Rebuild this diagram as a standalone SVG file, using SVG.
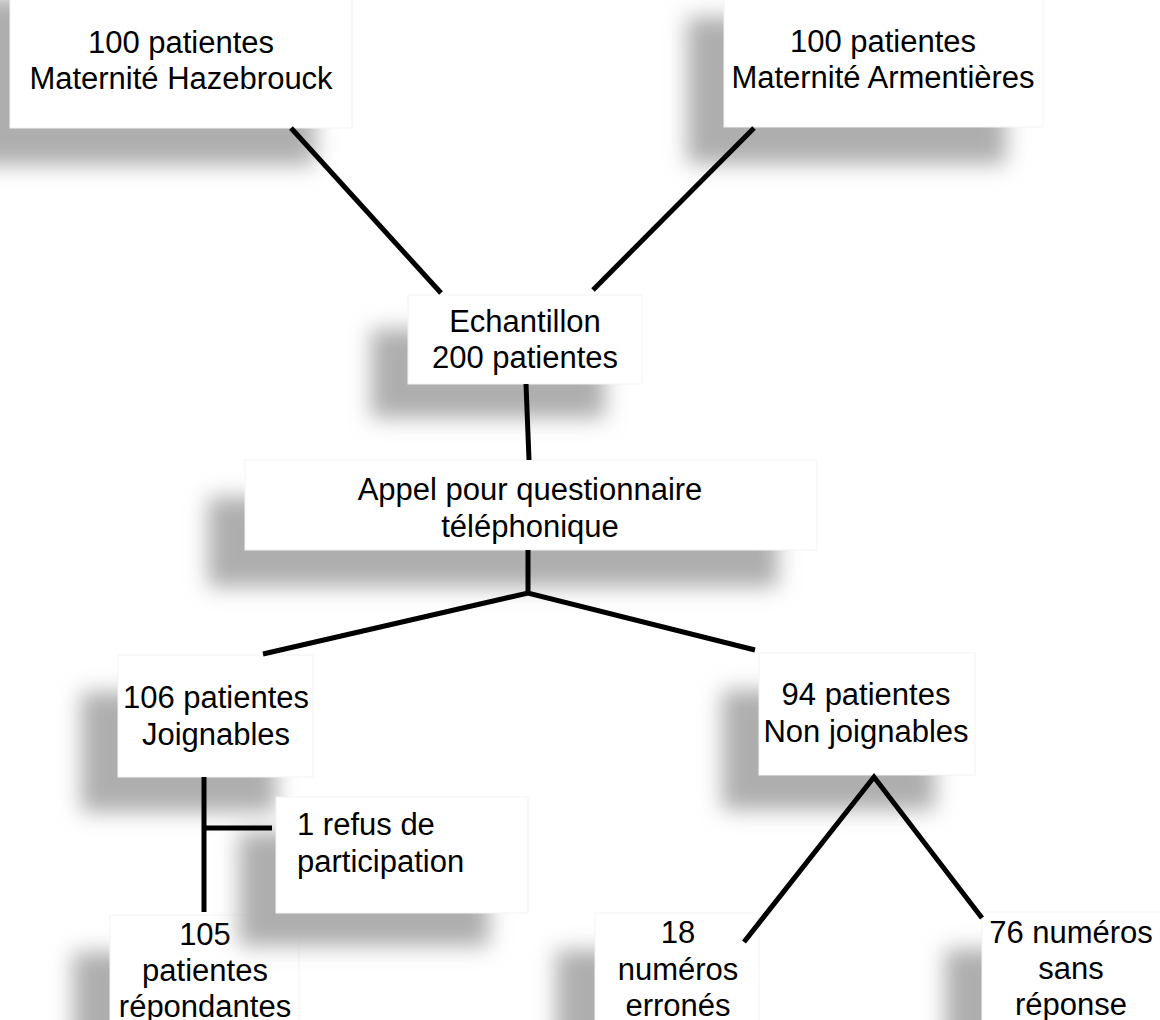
<svg xmlns="http://www.w3.org/2000/svg" width="1160" height="1020" viewBox="0 0 1160 1020">
<defs>
<filter id="blur" x="-30%" y="-30%" width="160%" height="160%"><feGaussianBlur stdDeviation="10.5"/></filter>
<clipPath id="clipAppel"><rect x="245" y="460" width="572" height="90"/></clipPath>
</defs>
<style>
.sh{fill:#aeaeae;filter:url(#blur)}
.box{fill:#ffffff;stroke:#f3f3f3;stroke-width:1}
.t{font-family:"Liberation Sans",Arial,sans-serif;font-size:31px;fill:#000000;text-anchor:middle}
.tl{font-family:"Liberation Sans",Arial,sans-serif;font-size:31px;fill:#000000;text-anchor:start}
.c{stroke:#000000;stroke-width:5;fill:none;stroke-linejoin:miter}
</style>
<rect x="0" y="0" width="1160" height="1020" fill="#ffffff"/>

<g id="node-hazebrouck">
<rect class="sh" x="-27" y="-3" width="342" height="168"/>
<rect class="box" x="10" y="-40" width="342" height="168"/>
<text class="t" x="181" y="53">100 patientes</text>
<text class="t" x="181" y="89">Maternité Hazebrouck</text>
</g>

<g id="node-armentieres">
<rect class="sh" x="687" y="17" width="319" height="147"/>
<rect class="box" x="724" y="-20" width="319" height="147"/>
<text class="t" x="883" y="52">100 patientes</text>
<text class="t" x="883" y="88">Maternité Armentières</text>
</g>

<g id="node-echantillon">
<rect class="sh" x="371" y="329" width="234" height="89"/>
<rect class="box" x="408" y="295" width="234" height="89"/>
<text class="t" x="525" y="332">Echantillon</text>
<text class="t" x="525" y="368">200 patientes</text>
</g>

<g id="node-appel">
<rect class="sh" x="208" y="497" width="570" height="90"/>
<rect class="box" x="245" y="460" width="572" height="90"/>
<g clip-path="url(#clipAppel)">
<text class="t" x="530" y="500">Appel pour questionnaire</text>
<text class="t" x="530" y="537">téléphonique</text>
</g>
</g>

<g id="node-joignables">
<rect class="sh" x="81" y="692" width="195" height="120"/>
<rect class="box" x="118" y="655" width="195" height="122"/>
<text class="t" x="216" y="708">106 patientes</text>
<text class="t" x="216" y="745">Joignables</text>
</g>

<g id="node-nonjoignables">
<rect class="sh" x="722" y="690" width="213" height="120"/>
<rect class="box" x="759" y="653" width="216" height="122"/>
<text class="t" x="866" y="705">94 patientes</text>
<text class="t" x="866" y="742">Non joignables</text>
</g>

<g id="node-repondantes">
<rect class="sh" x="73" y="952" width="189" height="140"/>
<rect class="box" x="110" y="915" width="189" height="140"/>
<text class="t" x="205" y="945">105</text>
<text class="t" x="205" y="981">patientes</text>
<text class="t" x="205" y="1017">répondantes</text>
</g>

<g id="node-refus">
<rect class="sh" x="239" y="832" width="250" height="114"/>
<rect class="box" x="276" y="797" width="252" height="116"/>
<text class="tl" x="297" y="835">1 refus de</text>
<text class="tl" x="297" y="872">participation</text>
</g>

<g id="node-errones">
<rect class="sh" x="556" y="950" width="164" height="140"/>
<rect class="box" x="595" y="913" width="164" height="140"/>
<text class="t" x="678" y="943">18</text>
<text class="t" x="678" y="980">numéros</text>
<text class="t" x="678" y="1016">erronés</text>
</g>

<g id="node-sansreponse">
<rect class="sh" x="945" y="949" width="190" height="140"/>
<rect class="box" x="982" y="912" width="190" height="140"/>
<text class="t" x="1071" y="943">76 numéros</text>
<text class="t" x="1071" y="979">sans</text>
<text class="t" x="1071" y="1015">réponse</text>
</g>

<g id="connectors">
<line class="c" x1="291" y1="128" x2="441" y2="293"/>
<line class="c" x1="754" y1="128" x2="593" y2="290"/>
<line class="c" x1="526" y1="384" x2="529" y2="460"/>
<line class="c" x1="528" y1="550" x2="528" y2="593"/>
<polyline class="c" points="263,654 528,593 755,650"/>
<line class="c" x1="204" y1="777" x2="204" y2="912"/>
<line class="c" x1="204" y1="828" x2="272" y2="828"/>
<polyline class="c" points="744,942 874,777 982,918"/>
</g>
</svg>
